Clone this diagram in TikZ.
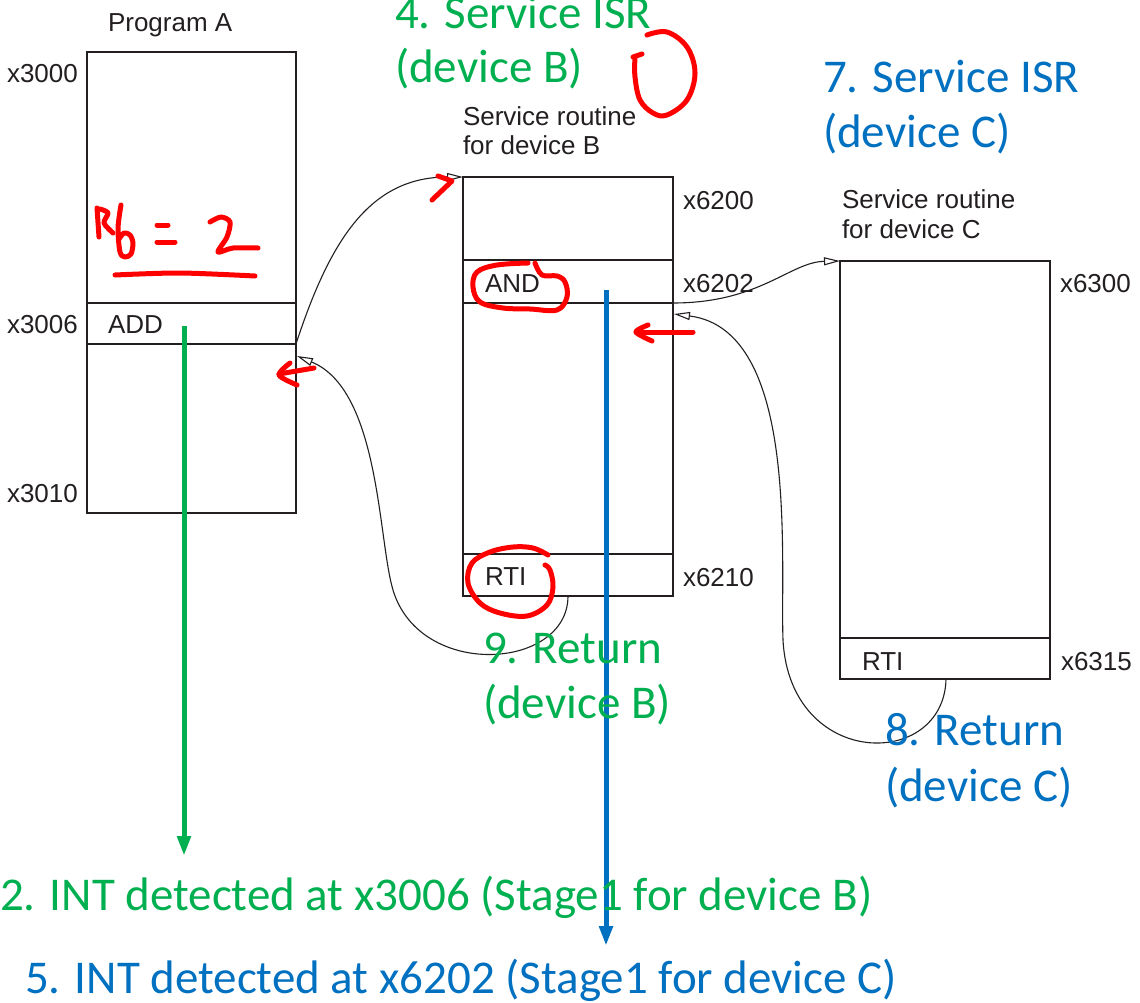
\documentclass[tikz,border=0pt]{standalone}
\usepackage{fontspec}
\setmainfont{Liberation Sans}
\newfontfamily\calfont{Carlito}
\usetikzlibrary{arrows.meta}
\definecolor{ink}{HTML}{231F20}
\definecolor{hlgreen}{HTML}{00B050}
\definecolor{hlblue}{HTML}{0070C0}
\definecolor{pen}{HTML}{FF0000}

\begin{document}
\begin{tikzpicture}[x=1pt,y=-1pt,
  mem/.style={draw=ink, line width=1.3pt, inner sep=0pt, outer sep=0pt, rectangle, anchor=north west},
  lbl/.style={text=ink, font=\fontsize{26}{29}\selectfont, anchor=base west, inner sep=0pt, outer sep=0pt},
  note/.style={font=\calfont\fontsize{47}{55}\selectfont, anchor=base west, inner sep=0pt, outer sep=0pt},
  link/.style={draw=ink, line width=1.1pt, -{Triangle[open, length=16pt, width=8pt]}},
  flow/.style={line width=5pt, -{Triangle[length=20pt, width=13pt]}},
  scrawl/.style={draw=pen, line width=5pt, line cap=round, line join=round}]
\useasboundingbox[fill=white] (0,0) rectangle (1140,1002);

% ---- memory blocks ----
\node[mem, minimum width=209pt, minimum height=461pt] (pa) at (87,52) {};
\node[mem, minimum width=209pt, minimum height=41pt] (addrow) at (87,303) {};
\node[mem, minimum width=210pt, minimum height=419pt] (svb) at (463,177) {};
\node[mem, minimum width=210pt, minimum height=43pt] (androw) at (463,260) {};
\node[mem, minimum width=210pt, minimum height=42pt] (rtibrow) at (463,554) {};
\node[mem, minimum width=210pt, minimum height=418pt] (svc) at (840,261) {};
\node[mem, minimum width=210pt, minimum height=41pt] (rticrow) at (840,638) {};

% ---- black labels ----
\node[lbl] (tpa) at (108,31) {Program A};
\node[lbl] (a3000) at (7,82) {x3000};
\node[lbl] (a3006) at (7,333) {x3006};
\node[lbl] (a3010) at (7,502) {x3010};
\node[lbl] (iadd) at (108,333) {ADD};
\node[lbl] (tsb1) at (463,125) {Service routine};
\node[lbl] (tsb2) at (463,154) {for device B};
\node[lbl] (a6200) at (683,209) {x6200};
\node[lbl] (a6202) at (683,292) {x6202};
\node[lbl] (a6210) at (683,586) {x6210};
\node[lbl] (iand) at (485,292) {AND};
\node[lbl] (irtib) at (485,585) {RTI};
\node[lbl] (tsc1) at (842,208) {Service routine};
\node[lbl] (tsc2) at (842,238) {for device C};
\node[lbl] (a6300) at (1060,292) {x6300};
\node[lbl] (a6315) at (1061,670) {x6315};
\node[lbl] (irtic) at (862,670) {RTI};

% ---- control transfers ----
\coordinate (retB) at (568,596);
\coordinate (backA) at (297,356);
\coordinate (retC) at (946,679);
\coordinate (backB) at (674,314);
\draw[link] (addrow.south east) .. controls (330,240) and (370,177) .. (svb.north west);
\draw[link] (androw.south east) .. controls (760,303) and (790,262) .. (svc.north west);
\draw[link] (retC) .. controls (944,770) and (790,770) .. (783,640)
  .. controls (780,560) and (800,330) .. (backB);
\draw[link] (retB) .. controls (568,670) and (420,680) .. (393,590)
  .. controls (378,540) and (380,390) .. (backA);

% ---- interrupt arrows ----
\coordinate (gtop) at (184,326);
\coordinate (gend) at (184,856);
\coordinate (btop) at (606,290);
\coordinate (bend) at (606,946);
\draw[flow, hlgreen] (gtop) -- (gend);
\draw[flow, hlblue] (btop) -- (bend);

% ---- step notes ----
\node[note, text=hlgreen] (s4a) at (395,28) {4. Service ISR};
\node[note, text=hlgreen] (s4b) at (395,82) {(device B)};
\node[note, text=hlblue] (s7a) at (823,92) {7. Service ISR};
\node[note, text=hlblue] (s7b) at (823,147) {(device C)};
\node[note, text=hlgreen] (s9a) at (483,663) {9. Return};
\node[note, text=hlgreen] (s9b) at (483,718) {(device B)};
\node[note, text=hlblue] (s8a) at (885,745) {8. Return};
\node[note, text=hlblue] (s8b) at (885,801) {(device C)};
\node[note, text=hlgreen] (s2) at (0,910) {2. INT detected at x3006 (Stage1 for device B)};
\node[note, text=hlblue] (s5) at (25,993) {5. INT detected at x6202 (Stage1 for device C)};

% ---- pen annotations ----
% R6 = 2, underlined
\draw[scrawl] (97,208) -- (99,237);
\draw[scrawl] plot[smooth] coordinates {(100,209) (108,213) (104,223) (113,233)};
\draw[scrawl] plot[smooth] coordinates {(121,205) (118,228) (120,252) (125,257) (131,254) (133,243) (130,235) (124,233) (119,239)};
\draw[scrawl] (157,225) -- (168,225);
\draw[scrawl] (157,242) -- (175,242);
\draw[scrawl] plot[smooth] coordinates {(210,222) (221,217) (230,222) (227,237) (218,252) (233,248) (258,248)};
\draw[scrawl] plot[smooth] coordinates {(115,275) (180,273) (255,276)};
% entry mark at the service routine
\draw[scrawl] (438,176) -- (452,181) -- (432,200);
% open loop beside the heading
\draw[scrawl] plot[smooth, tension=0.6] coordinates {(647,35) (667,32) (687,47) (695,73) (687,100) (667,115) (653,113) (640,100) (635,77) (635,57)};
\draw[scrawl] (633,57) -- (642,54);
% ring round AND
\draw[scrawl] plot[smooth, tension=0.6] coordinates {(528,263) (497,265) (477,272) (473,287) (480,302) (503,308) (530,309) (557,310) (567,297) (565,282) (557,276) (542,275) (535,263)};
% ring round RTI
\draw[scrawl] plot[smooth, tension=0.6] coordinates {(548,555) (533,548) (513,547) (490,552) (472,563) (468,583) (480,603) (500,613) (527,616) (547,605) (553,587) (550,570) (545,565)};
% return points
\draw[scrawl] (693,332) -- (636,332);
\draw[scrawl] plot[smooth] coordinates {(648,325) (636,332) (652,341)};
\draw[scrawl] (314,368) -- (279,374);
\draw[scrawl] plot[smooth] coordinates {(290,363) (279,375) (297,385)};
\end{tikzpicture}
\end{document}
